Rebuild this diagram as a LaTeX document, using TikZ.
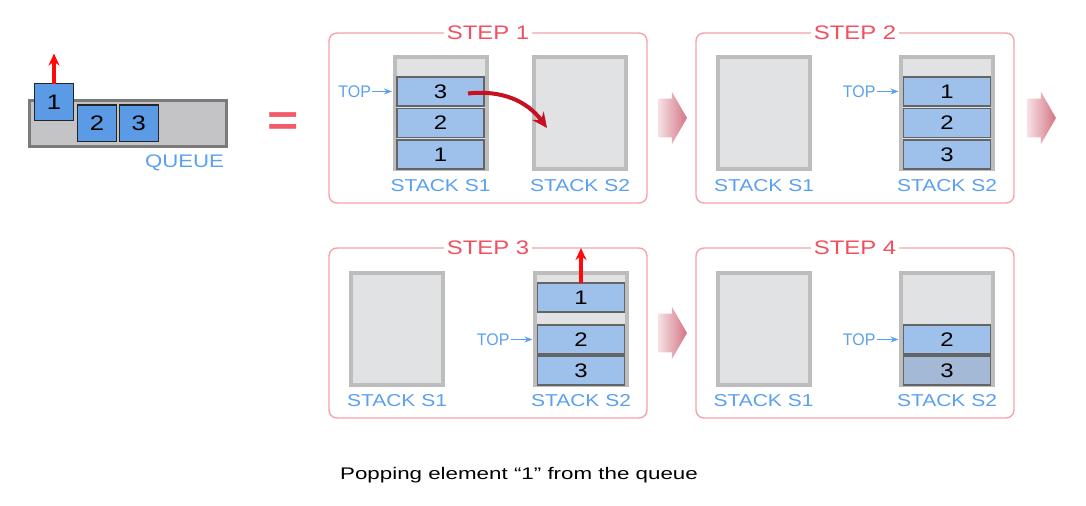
\documentclass[tikz,border=0pt]{standalone}
\usepackage{fontspec}
\setmainfont{Liberation Sans}[FakeStretch=1.22]
\newfontfamily\topfont{Liberation Sans}[FakeStretch=0.95]
\newfontfamily\capfont{Liberation Sans}[FakeStretch=1.33]
\usepackage{xcolor}
\usetikzlibrary{positioning,calc,arrows.meta,shapes.arrows}

\definecolor{lblblue}{HTML}{5AA0F0}
\definecolor{titlered}{HTML}{F0505F}
\definecolor{panelrim}{HTML}{F5A3AA}
\definecolor{cellblue}{HTML}{9DC1EA}
\definecolor{celldark}{HTML}{A3B9D6}
\definecolor{cellrim}{HTML}{646464}
\definecolor{qblue}{HTML}{5B9BE6}
\definecolor{stackrim}{HTML}{BDBDBD}
\definecolor{stackin}{HTML}{E1E2E4}
\definecolor{qbar}{HTML}{C4C4C6}
\definecolor{qrim}{HTML}{7A7A7A}
\definecolor{eqred}{HTML}{F25A6A}
\definecolor{popred}{HTML}{FF0A0A}
\definecolor{moved}{HTML}{C81020}
\definecolor{arrowpink}{HTML}{D47484}
\definecolor{arrowpale}{HTML}{F6E2E5}

\begin{document}
\begin{tikzpicture}[x=0.5pt,y=-0.5pt,>=Stealth,outer sep=0pt,
        panel box/.style={draw=panelrim, line width=0.7pt, rounded corners=4pt,
            minimum width=159pt, minimum height=85pt, inner sep=0pt},
        step title/.style={fill=white, inner sep=1.5pt, text=titlered,
            font=\fontsize{9.8}{10}\selectfont},
        stack box/.style={draw=stackrim, fill=stackin, line width=2pt,
            minimum width=46pt, minimum height=56pt, inner sep=0pt},
        cell node/.style={draw=cellrim, fill=cellblue, line width=0.6pt,
            minimum width=43.5pt, minimum height=14.5pt, inner sep=0pt,
            font=\fontsize{9.8}{10}\selectfont},
        queue box/.style={draw=black!85, fill=qblue, line width=0.6pt,
            minimum width=19.4pt, minimum height=18.4pt, inner sep=0pt,
            font=\fontsize{10.5}{11}\selectfont},
        stack label/.style={inner sep=0pt, text=lblblue, font=\fontsize{8.6}{9}\selectfont},
        top label/.style={inner sep=0.5pt, text=lblblue, font=\topfont\fontsize{8.4}{9}\selectfont},
        top arrow/.style={->, draw=lblblue, line width=0.75pt, >={Stealth[length=4pt,width=3pt]}},
        pop arrow/.style={->, draw=popred, line width=1.6pt, >={Stealth[length=6pt,width=5.5pt]}},
        block arrow/.style={single arrow, minimum height=14.5pt, inner xsep=0pt, inner ysep=9.5pt,
            single arrow head extend=3.5pt, single arrow tip angle=120,
            left color=arrowpale, right color=arrowpink}]

\useasboundingbox (0,0) rectangle (1086,506);

% the queue
\node[draw=qrim, fill=qbar, line width=1.5pt, minimum width=98.5pt, minimum height=23pt] (q) at (128,123.5) {};
\node[queue box] (b2) at (97,123.5) {2};
\node[queue box, anchor=west] (b3) at ([xshift=1.5pt]b2.east) {3};
\node[queue box] (b1) at (54,102) {1};
\node[stack label, anchor=north east, font=\fontsize{9.1}{9}\selectfont] (ql) at ([xshift=-1.25pt,yshift=-4.25pt]q.south east) {QUEUE};
\draw[pop arrow] (b1.north) -- ([yshift=15pt]b1.north);

\node[text=eqred, font=\fontsize{22}{22}\bfseries] (eq) at (283,124) {=};

% the four steps
\node[panel box] (p1) at (488,118) {};
\node[panel box, right=24.5pt of p1] (p2) {};
\node[panel box, below=22.5pt of p1] (p3) {};
\node[panel box, right=24.5pt of p3] (p4) {};

\node[step title] (h1) at (p1.north) {STEP 1};
\node[step title] (h2) at (p2.north) {STEP 2};
\node[step title] (h3) at (p3.north) {STEP 3};
\node[step title] (h4) at (p4.north) {STEP 4};

\node[block arrow, right=5.5pt of p1] (ar1) {};
\node[block arrow, right=6.5pt of p2] (ar2) {};
\node[block arrow, right=5.5pt of p3] (ar3) {};

% step 1
\node[stack box] (s11) at (440.5,113) {};
\node[stack box] (s12) at (580,113) {};
\node[cell node, anchor=south] (a1) at (s11.south) {1};
\node[cell node, anchor=south] (a2) at ([yshift=1.25pt]a1.north) {2};
\node[cell node, anchor=south] (a3) at ([yshift=1.25pt]a2.north) {3};
\node[top label, left=12.5pt of a3] (t1) {TOP};
\draw[top arrow] (t1.east) -- ([xshift=-2.5pt]a3.west);
\draw[->, draw=moved, line width=2pt, >={Stealth[length=7.5pt,width=7pt]}]
    ([xshift=13.75pt,yshift=-1pt]a3.center) to[bend left=30] ([xshift=-16.5pt,yshift=-7.5pt]s12.center);
\node[stack label, below=5pt of s11] (l11) {STACK S1};
\node[stack label, below=5pt of s12] (l12) {STACK S2};

% step 2
\node[stack box] (s21) at (764,113) {};
\node[stack box] (s22) at (947,113) {};
\node[cell node, anchor=south] (c3) at (s22.south) {3};
\node[cell node, anchor=south] (c2) at ([yshift=1.25pt]c3.north) {2};
\node[cell node, anchor=south] (c1) at ([yshift=1.25pt]c2.north) {1};
\node[top label, left=13.5pt of c1] (t2) {TOP};
\draw[top arrow] (t2.east) -- ([xshift=-2.5pt]c1.west);
\node[stack label, below=5pt of s21] (l21) {STACK S1};
\node[stack label, below=5pt of s22] (l22) {STACK S2};

% step 3
\node[stack box] (s31) at (397,329) {};
\node[stack box] (s32) at (581,329) {};
\node[cell node, anchor=south] (d3) at (s32.south) {3};
\node[cell node, anchor=south] (d2) at ([yshift=1pt]d3.north) {2};
\node[cell node, anchor=south] (d1) at ([yshift=6.5pt]d2.north) {1};
\node[top label, left=13.5pt of d2] (t3) {TOP};
\draw[top arrow] (t3.east) -- ([xshift=-2.5pt]d2.west);
\draw[pop arrow] (d1.north) -- (d1.north |- p3.north);
\node[stack label, below=4.5pt of s31] (l31) {STACK S1};
\node[stack label, below=4.5pt of s32] (l32) {STACK S2};

% step 4
\node[stack box] (s41) at (763.5,329) {};
\node[stack box] (s42) at (947,329) {};
\node[cell node, anchor=south, fill=celldark] (e3) at (s42.south) {3};
\node[cell node, anchor=south] (e2) at ([yshift=1pt]e3.north) {2};
\node[top label, left=13.5pt of e2] (t4) {TOP};
\draw[top arrow] (t4.east) -- ([xshift=-2.5pt]e2.west);
\node[stack label, below=4.5pt of s41] (l41) {STACK S1};
\node[stack label, below=4.5pt of s42] (l42) {STACK S2};

\node[font=\capfont\fontsize{8.4}{9}\selectfont] (cap) at (519,475) {Popping element “1” from the queue};

\end{tikzpicture}
\end{document}
